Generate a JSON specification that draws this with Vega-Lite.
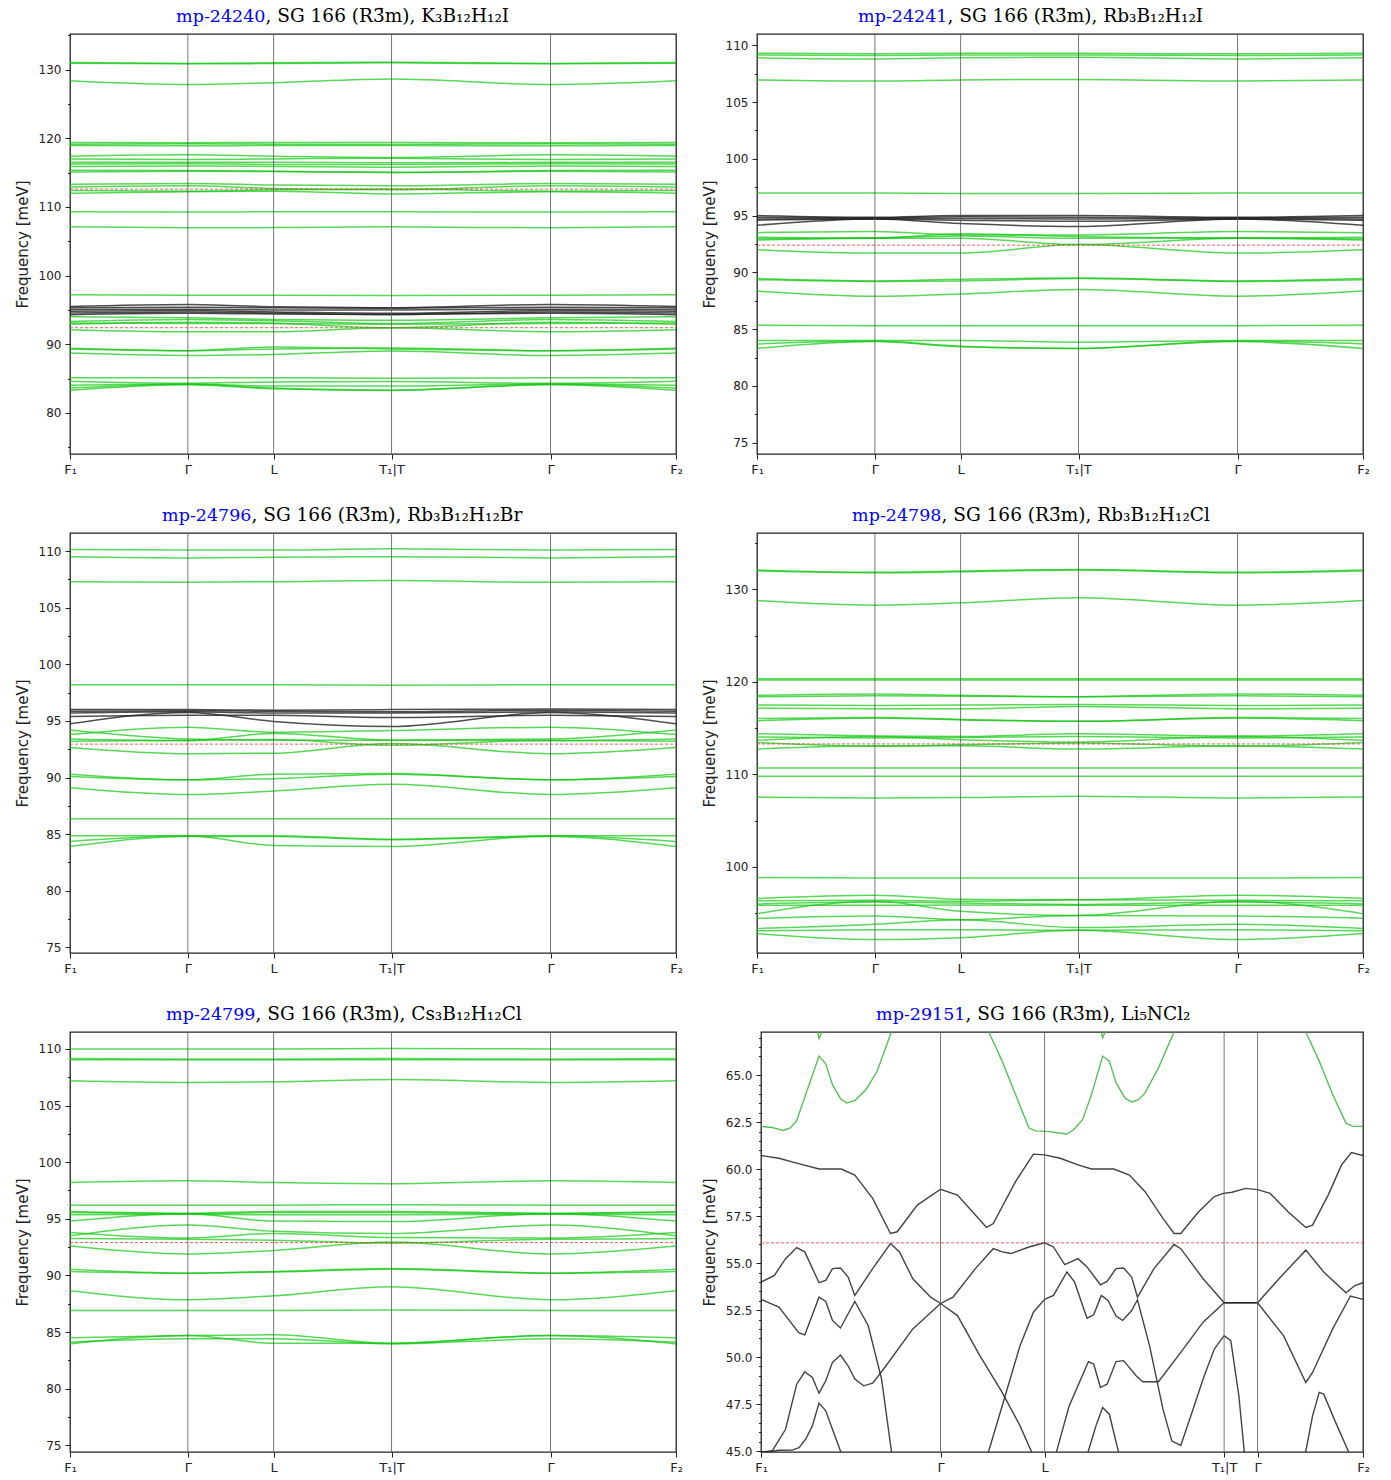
{
"$schema": "https://vega.github.io/schema/vega-lite/v6.json",
"background": "white",
"padding": {"left": 14, "right": 5, "top": 5, "bottom": 2},
"config": {
 "view": {"stroke": "#222222", "strokeWidth": 1.3},
 "axis": {"grid": false, "domain": false, "labelFont": "DejaVu Sans", "labelFontSize": 12, "labelColor": "#222222", "tickColor": "#222222", "titleFont": "DejaVu Sans", "titleFontSize": 15, "titleFontWeight": "normal", "titleColor": "#222222", "labelOverlap": false, "labelFlush": false}
},
"datasets": {
 "s1": [{"k":0.1945},{"k":0.336},{"k":0.5306},{"k":0.793}],
 "s6": [{"k":0.2982},{"k":0.4711},{"k":0.7693},{"k":0.8249}],
 "p1g": [
{"b":1,"k":0,"f":131.05},{"b":1,"k":0.1945,"f":130.9},{"b":1,"k":0.336,"f":131.0},{"b":1,"k":0.5306,"f":131.1},{"b":1,"k":0.793,"f":130.9},{"b":1,"k":1,"f":131.05},
{"b":2,"k":0,"f":130.95},{"b":2,"k":0.1945,"f":130.85},{"b":2,"k":0.336,"f":130.9},{"b":2,"k":0.5306,"f":131.0},{"b":2,"k":0.793,"f":130.85},{"b":2,"k":1,"f":130.95},
{"b":3,"k":0,"f":128.4},{"b":3,"k":0.1945,"f":127.85},{"b":3,"k":0.336,"f":128.1},{"b":3,"k":0.5306,"f":128.65},{"b":3,"k":0.793,"f":127.85},{"b":3,"k":1,"f":128.4},
{"b":4,"k":0,"f":119.4},{"b":4,"k":0.1945,"f":119.35},{"b":4,"k":0.336,"f":119.4},{"b":4,"k":0.5306,"f":119.4},{"b":4,"k":0.793,"f":119.35},{"b":4,"k":1,"f":119.4},
{"b":5,"k":0,"f":119.15},{"b":5,"k":0.1945,"f":119.2},{"b":5,"k":0.336,"f":119.15},{"b":5,"k":0.5306,"f":119.1},{"b":5,"k":0.793,"f":119.2},{"b":5,"k":1,"f":119.15},
{"b":6,"k":0,"f":118.95},{"b":6,"k":0.1945,"f":118.9},{"b":6,"k":0.336,"f":118.95},{"b":6,"k":0.5306,"f":118.95},{"b":6,"k":0.793,"f":118.9},{"b":6,"k":1,"f":118.95},
{"b":7,"k":0,"f":117.4},{"b":7,"k":0.1945,"f":117.6},{"b":7,"k":0.336,"f":117.4},{"b":7,"k":0.5306,"f":117.2},{"b":7,"k":0.793,"f":117.6},{"b":7,"k":1,"f":117.4},
{"b":8,"k":0,"f":117.0},{"b":8,"k":0.1945,"f":116.9},{"b":8,"k":0.336,"f":117.0},{"b":8,"k":0.5306,"f":117.1},{"b":8,"k":0.793,"f":116.9},{"b":8,"k":1,"f":117.0},
{"b":9,"k":0,"f":116.5},{"b":9,"k":0.1945,"f":116.5},{"b":9,"k":0.336,"f":116.5},{"b":9,"k":0.5306,"f":116.45},{"b":9,"k":0.793,"f":116.5},{"b":9,"k":1,"f":116.5},
{"b":10,"k":0,"f":116.25},{"b":10,"k":0.1945,"f":116.3},{"b":10,"k":0.336,"f":116.2},{"b":10,"k":0.5306,"f":116.2},{"b":10,"k":0.793,"f":116.3},{"b":10,"k":1,"f":116.25},
{"b":11,"k":0,"f":115.9},{"b":11,"k":0.1945,"f":115.95},{"b":11,"k":0.336,"f":115.9},{"b":11,"k":0.5306,"f":115.8},{"b":11,"k":0.793,"f":115.95},{"b":11,"k":1,"f":115.9},
{"b":12,"k":0,"f":115.35},{"b":12,"k":0.1945,"f":115.3},{"b":12,"k":0.336,"f":115.2},{"b":12,"k":0.5306,"f":115.05},{"b":12,"k":0.793,"f":115.3},{"b":12,"k":1,"f":115.35},
{"b":13,"k":0,"f":115.1},{"b":13,"k":0.1945,"f":115.2},{"b":13,"k":0.336,"f":115.15},{"b":13,"k":0.5306,"f":115.0},{"b":13,"k":0.793,"f":115.2},{"b":13,"k":1,"f":115.1},
{"b":14,"k":0,"f":113.3},{"b":14,"k":0.1945,"f":113.4},{"b":14,"k":0.336,"f":113.2},{"b":14,"k":0.5306,"f":113.1},{"b":14,"k":0.793,"f":113.4},{"b":14,"k":1,"f":113.3},
{"b":15,"k":0,"f":112.9},{"b":15,"k":0.1945,"f":113.1},{"b":15,"k":0.336,"f":112.7},{"b":15,"k":0.5306,"f":112.5},{"b":15,"k":0.793,"f":113.1},{"b":15,"k":1,"f":112.9},
{"b":16,"k":0,"f":112.4},{"b":16,"k":0.1945,"f":112.3},{"b":16,"k":0.336,"f":112.5},{"b":16,"k":0.5306,"f":112.6},{"b":16,"k":0.793,"f":112.3},{"b":16,"k":1,"f":112.4},
{"b":17,"k":0,"f":112.0},{"b":17,"k":0.1945,"f":112.2},{"b":17,"k":0.336,"f":112.3},{"b":17,"k":0.5306,"f":111.9},{"b":17,"k":0.793,"f":112.2},{"b":17,"k":1,"f":112.0},
{"b":18,"k":0,"f":109.3},{"b":18,"k":0.1945,"f":109.25},{"b":18,"k":0.336,"f":109.3},{"b":18,"k":0.5306,"f":109.3},{"b":18,"k":0.793,"f":109.25},{"b":18,"k":1,"f":109.3},
{"b":19,"k":0,"f":107.1},{"b":19,"k":0.1945,"f":106.95},{"b":19,"k":0.336,"f":107.0},{"b":19,"k":0.5306,"f":107.1},{"b":19,"k":0.793,"f":106.95},{"b":19,"k":1,"f":107.1},
{"b":20,"k":0,"f":97.2},{"b":20,"k":0.1945,"f":97.15},{"b":20,"k":0.336,"f":97.15},{"b":20,"k":0.5306,"f":97.1},{"b":20,"k":0.793,"f":97.15},{"b":20,"k":1,"f":97.2},
{"b":21,"k":0,"f":94.0},{"b":21,"k":0.1945,"f":93.85},{"b":21,"k":0.336,"f":93.6},{"b":21,"k":0.5306,"f":93.5},{"b":21,"k":0.793,"f":93.85},{"b":21,"k":1,"f":94.0},
{"b":22,"k":0,"f":93.3},{"b":22,"k":0.1945,"f":93.6},{"b":22,"k":0.336,"f":93.4},{"b":22,"k":0.5306,"f":93.0},{"b":22,"k":0.793,"f":93.6},{"b":22,"k":1,"f":93.3},
{"b":23,"k":0,"f":93.1},{"b":23,"k":0.1945,"f":93.0},{"b":23,"k":0.336,"f":93.0},{"b":23,"k":0.5306,"f":92.9},{"b":23,"k":0.793,"f":93.0},{"b":23,"k":1,"f":93.1},
{"b":24,"k":0,"f":92.9},{"b":24,"k":0.1945,"f":93.2},{"b":24,"k":0.336,"f":93.05},{"b":24,"k":0.5306,"f":92.4},{"b":24,"k":0.793,"f":93.2},{"b":24,"k":1,"f":92.9},
{"b":25,"k":0,"f":92.1},{"b":25,"k":0.1945,"f":91.8},{"b":25,"k":0.336,"f":91.8},{"b":25,"k":0.5306,"f":92.4},{"b":25,"k":0.793,"f":91.8},{"b":25,"k":1,"f":92.1},
{"b":26,"k":0,"f":89.4},{"b":26,"k":0.1945,"f":89.05},{"b":26,"k":0.336,"f":89.6},{"b":26,"k":0.5306,"f":89.3},{"b":26,"k":0.793,"f":89.05},{"b":26,"k":1,"f":89.4},
{"b":27,"k":0,"f":89.3},{"b":27,"k":0.1945,"f":89.05},{"b":27,"k":0.336,"f":89.3},{"b":27,"k":0.5306,"f":89.45},{"b":27,"k":0.793,"f":89.05},{"b":27,"k":1,"f":89.3},
{"b":28,"k":0,"f":88.7},{"b":28,"k":0.1945,"f":88.35},{"b":28,"k":0.336,"f":88.5},{"b":28,"k":0.5306,"f":89.0},{"b":28,"k":0.793,"f":88.35},{"b":28,"k":1,"f":88.7},
{"b":29,"k":0,"f":85.1},{"b":29,"k":0.1945,"f":85.1},{"b":29,"k":0.336,"f":85.1},{"b":29,"k":0.5306,"f":85.05},{"b":29,"k":0.793,"f":85.1},{"b":29,"k":1,"f":85.1},
{"b":30,"k":0,"f":84.6},{"b":30,"k":0.1945,"f":84.3},{"b":30,"k":0.336,"f":84.5},{"b":30,"k":0.5306,"f":84.55},{"b":30,"k":0.793,"f":84.3},{"b":30,"k":1,"f":84.6},
{"b":31,"k":0,"f":84.0},{"b":31,"k":0.1945,"f":84.2},{"b":31,"k":0.336,"f":83.9},{"b":31,"k":0.5306,"f":83.9},{"b":31,"k":0.793,"f":84.2},{"b":31,"k":1,"f":84.0},
{"b":32,"k":0,"f":83.6},{"b":32,"k":0.1945,"f":84.15},{"b":32,"k":0.336,"f":83.6},{"b":32,"k":0.5306,"f":83.3},{"b":32,"k":0.793,"f":84.15},{"b":32,"k":1,"f":83.6},
{"b":33,"k":0,"f":83.3},{"b":33,"k":0.1945,"f":84.1},{"b":33,"k":0.336,"f":83.5},{"b":33,"k":0.5306,"f":83.25},{"b":33,"k":0.793,"f":84.1},{"b":33,"k":1,"f":83.3}
 ],
 "p1k": [
{"b":1,"k":0,"f":95.5},{"b":1,"k":0.1945,"f":95.8},{"b":1,"k":0.336,"f":95.45},{"b":1,"k":0.5306,"f":95.3},{"b":1,"k":0.793,"f":95.8},{"b":1,"k":1,"f":95.5},
{"b":2,"k":0,"f":95.3},{"b":2,"k":0.1945,"f":95.4},{"b":2,"k":0.336,"f":95.3},{"b":2,"k":0.5306,"f":95.25},{"b":2,"k":0.793,"f":95.4},{"b":2,"k":1,"f":95.3},
{"b":3,"k":0,"f":95.05},{"b":3,"k":0.1945,"f":95.1},{"b":3,"k":0.336,"f":95.0},{"b":3,"k":0.5306,"f":95.0},{"b":3,"k":0.793,"f":95.1},{"b":3,"k":1,"f":95.05},
{"b":4,"k":0,"f":94.8},{"b":4,"k":0.1945,"f":94.9},{"b":4,"k":0.336,"f":94.7},{"b":4,"k":0.5306,"f":94.5},{"b":4,"k":0.793,"f":94.9},{"b":4,"k":1,"f":94.8},
{"b":5,"k":0,"f":94.55},{"b":5,"k":0.1945,"f":94.7},{"b":5,"k":0.336,"f":94.55},{"b":5,"k":0.5306,"f":94.3},{"b":5,"k":0.793,"f":94.7},{"b":5,"k":1,"f":94.55},
{"b":6,"k":0,"f":94.3},{"b":6,"k":0.1945,"f":94.5},{"b":6,"k":0.336,"f":94.4},{"b":6,"k":0.5306,"f":94.35},{"b":6,"k":0.793,"f":94.5},{"b":6,"k":1,"f":94.3}
 ],
 "p2g": [
{"b":1,"k":0,"f":109.3},{"b":1,"k":0.1945,"f":109.25},{"b":1,"k":0.336,"f":109.3},{"b":1,"k":0.5306,"f":109.3},{"b":1,"k":0.793,"f":109.25},{"b":1,"k":1,"f":109.3},
{"b":2,"k":0,"f":109.15},{"b":2,"k":0.1945,"f":109.1},{"b":2,"k":0.336,"f":109.15},{"b":2,"k":0.5306,"f":109.15},{"b":2,"k":0.793,"f":109.1},{"b":2,"k":1,"f":109.15},
{"b":3,"k":0,"f":108.9},{"b":3,"k":0.1945,"f":108.8},{"b":3,"k":0.336,"f":108.9},{"b":3,"k":0.5306,"f":108.95},{"b":3,"k":0.793,"f":108.8},{"b":3,"k":1,"f":108.9},
{"b":4,"k":0,"f":106.95},{"b":4,"k":0.1945,"f":106.85},{"b":4,"k":0.336,"f":106.95},{"b":4,"k":0.5306,"f":107.0},{"b":4,"k":0.793,"f":106.85},{"b":4,"k":1,"f":106.95},
{"b":5,"k":0,"f":97.0},{"b":5,"k":0.1945,"f":97.0},{"b":5,"k":0.336,"f":96.95},{"b":5,"k":0.5306,"f":96.95},{"b":5,"k":0.793,"f":97.0},{"b":5,"k":1,"f":97.0},
{"b":6,"k":0,"f":93.5},{"b":6,"k":0.1945,"f":93.6},{"b":6,"k":0.336,"f":93.3},{"b":6,"k":0.5306,"f":93.3},{"b":6,"k":0.793,"f":93.6},{"b":6,"k":1,"f":93.5},
{"b":7,"k":0,"f":93.1},{"b":7,"k":0.1945,"f":93.0},{"b":7,"k":0.336,"f":93.4},{"b":7,"k":0.5306,"f":93.15},{"b":7,"k":0.793,"f":93.0},{"b":7,"k":1,"f":93.1},
{"b":8,"k":0,"f":92.95},{"b":8,"k":0.1945,"f":93.05},{"b":8,"k":0.336,"f":93.2},{"b":8,"k":0.5306,"f":93.0},{"b":8,"k":0.793,"f":93.05},{"b":8,"k":1,"f":92.95},
{"b":9,"k":0,"f":92.85},{"b":9,"k":0.1945,"f":93.0},{"b":9,"k":0.336,"f":93.0},{"b":9,"k":0.5306,"f":92.45},{"b":9,"k":0.793,"f":93.0},{"b":9,"k":1,"f":92.85},
{"b":10,"k":0,"f":92.0},{"b":10,"k":0.1945,"f":91.7},{"b":10,"k":0.336,"f":91.7},{"b":10,"k":0.5306,"f":92.45},{"b":10,"k":0.793,"f":91.7},{"b":10,"k":1,"f":92.0},
{"b":11,"k":0,"f":89.45},{"b":11,"k":0.1945,"f":89.25},{"b":11,"k":0.336,"f":89.4},{"b":11,"k":0.5306,"f":89.5},{"b":11,"k":0.793,"f":89.25},{"b":11,"k":1,"f":89.45},
{"b":12,"k":0,"f":89.35},{"b":12,"k":0.1945,"f":89.2},{"b":12,"k":0.336,"f":89.25},{"b":12,"k":0.5306,"f":89.45},{"b":12,"k":0.793,"f":89.2},{"b":12,"k":1,"f":89.35},
{"b":13,"k":0,"f":88.35},{"b":13,"k":0.1945,"f":87.9},{"b":13,"k":0.336,"f":88.1},{"b":13,"k":0.5306,"f":88.5},{"b":13,"k":0.793,"f":87.9},{"b":13,"k":1,"f":88.35},
{"b":14,"k":0,"f":85.35},{"b":14,"k":0.1945,"f":85.3},{"b":14,"k":0.336,"f":85.3},{"b":14,"k":0.5306,"f":85.3},{"b":14,"k":0.793,"f":85.3},{"b":14,"k":1,"f":85.35},
{"b":15,"k":0,"f":84.0},{"b":15,"k":0.1945,"f":84.0},{"b":15,"k":0.336,"f":84.0},{"b":15,"k":0.5306,"f":83.85},{"b":15,"k":0.793,"f":84.0},{"b":15,"k":1,"f":84.0},
{"b":16,"k":0,"f":83.7},{"b":16,"k":0.1945,"f":83.95},{"b":16,"k":0.336,"f":83.5},{"b":16,"k":0.5306,"f":83.3},{"b":16,"k":0.793,"f":83.95},{"b":16,"k":1,"f":83.7},
{"b":17,"k":0,"f":83.3},{"b":17,"k":0.1945,"f":83.9},{"b":17,"k":0.336,"f":83.45},{"b":17,"k":0.5306,"f":83.3},{"b":17,"k":0.793,"f":83.9},{"b":17,"k":1,"f":83.3}
 ],
 "p2k": [
{"b":1,"k":0,"f":95.0},{"b":1,"k":0.1945,"f":94.85},{"b":1,"k":0.336,"f":95.0},{"b":1,"k":0.5306,"f":95.0},{"b":1,"k":0.793,"f":94.85},{"b":1,"k":1,"f":95.0},
{"b":2,"k":0,"f":94.85},{"b":2,"k":0.1945,"f":94.8},{"b":2,"k":0.336,"f":94.9},{"b":2,"k":0.5306,"f":94.85},{"b":2,"k":0.793,"f":94.8},{"b":2,"k":1,"f":94.85},
{"b":3,"k":0,"f":94.7},{"b":3,"k":0.1945,"f":94.75},{"b":3,"k":0.336,"f":94.75},{"b":3,"k":0.5306,"f":94.7},{"b":3,"k":0.793,"f":94.75},{"b":3,"k":1,"f":94.7},
{"b":4,"k":0,"f":94.6},{"b":4,"k":0.1945,"f":94.7},{"b":4,"k":0.336,"f":94.6},{"b":4,"k":0.5306,"f":94.5},{"b":4,"k":0.793,"f":94.7},{"b":4,"k":1,"f":94.6},
{"b":5,"k":0,"f":94.15},{"b":5,"k":0.1945,"f":94.7},{"b":5,"k":0.336,"f":94.3},{"b":5,"k":0.5306,"f":94.05},{"b":5,"k":0.793,"f":94.7},{"b":5,"k":1,"f":94.15}
 ],
 "p3g": [
{"b":1,"k":0,"f":110.15},{"b":1,"k":0.1945,"f":110.1},{"b":1,"k":0.336,"f":110.1},{"b":1,"k":0.5306,"f":110.2},{"b":1,"k":0.793,"f":110.1},{"b":1,"k":1,"f":110.15},
{"b":2,"k":0,"f":109.5},{"b":2,"k":0.1945,"f":109.4},{"b":2,"k":0.336,"f":109.45},{"b":2,"k":0.5306,"f":109.5},{"b":2,"k":0.793,"f":109.4},{"b":2,"k":1,"f":109.5},
{"b":3,"k":0,"f":107.3},{"b":3,"k":0.1945,"f":107.25},{"b":3,"k":0.336,"f":107.3},{"b":3,"k":0.5306,"f":107.4},{"b":3,"k":0.793,"f":107.25},{"b":3,"k":1,"f":107.3},
{"b":4,"k":0,"f":98.2},{"b":4,"k":0.1945,"f":98.2},{"b":4,"k":0.336,"f":98.2},{"b":4,"k":0.5306,"f":98.15},{"b":4,"k":0.793,"f":98.2},{"b":4,"k":1,"f":98.2},
{"b":5,"k":0,"f":94.2},{"b":5,"k":0.1945,"f":93.4},{"b":5,"k":0.336,"f":93.3},{"b":5,"k":0.5306,"f":93.3},{"b":5,"k":0.793,"f":93.4},{"b":5,"k":1,"f":94.2},
{"b":6,"k":0,"f":93.8},{"b":6,"k":0.1945,"f":94.45},{"b":6,"k":0.336,"f":94.0},{"b":6,"k":0.5306,"f":94.15},{"b":6,"k":0.793,"f":94.45},{"b":6,"k":1,"f":93.8},
{"b":7,"k":0,"f":93.4},{"b":7,"k":0.1945,"f":93.25},{"b":7,"k":0.336,"f":93.9},{"b":7,"k":0.5306,"f":93.3},{"b":7,"k":0.793,"f":93.25},{"b":7,"k":1,"f":93.4},
{"b":8,"k":0,"f":93.2},{"b":8,"k":0.1945,"f":93.3},{"b":8,"k":0.336,"f":93.35},{"b":8,"k":0.5306,"f":92.85},{"b":8,"k":0.793,"f":93.3},{"b":8,"k":1,"f":93.2},
{"b":9,"k":0,"f":92.65},{"b":9,"k":0.1945,"f":92.1},{"b":9,"k":0.336,"f":92.15},{"b":9,"k":0.5306,"f":93.0},{"b":9,"k":0.793,"f":92.1},{"b":9,"k":1,"f":92.65},
{"b":10,"k":0,"f":90.3},{"b":10,"k":0.1945,"f":89.8},{"b":10,"k":0.336,"f":90.3},{"b":10,"k":0.5306,"f":90.35},{"b":10,"k":0.793,"f":89.8},{"b":10,"k":1,"f":90.3},
{"b":11,"k":0,"f":90.1},{"b":11,"k":0.1945,"f":89.8},{"b":11,"k":0.336,"f":89.9},{"b":11,"k":0.5306,"f":90.3},{"b":11,"k":0.793,"f":89.8},{"b":11,"k":1,"f":90.1},
{"b":12,"k":0,"f":89.1},{"b":12,"k":0.1945,"f":88.5},{"b":12,"k":0.336,"f":88.8},{"b":12,"k":0.5306,"f":89.4},{"b":12,"k":0.793,"f":88.5},{"b":12,"k":1,"f":89.1},
{"b":13,"k":0,"f":86.35},{"b":13,"k":0.1945,"f":86.35},{"b":13,"k":0.336,"f":86.35},{"b":13,"k":0.5306,"f":86.35},{"b":13,"k":0.793,"f":86.35},{"b":13,"k":1,"f":86.35},
{"b":14,"k":0,"f":84.85},{"b":14,"k":0.1945,"f":84.85},{"b":14,"k":0.336,"f":84.85},{"b":14,"k":0.5306,"f":84.55},{"b":14,"k":0.793,"f":84.85},{"b":14,"k":1,"f":84.85},
{"b":15,"k":0,"f":84.35},{"b":15,"k":0.1945,"f":84.85},{"b":15,"k":0.336,"f":84.0},{"b":15,"k":0.5306,"f":83.9},{"b":15,"k":0.793,"f":84.85},{"b":15,"k":1,"f":84.35},
{"b":16,"k":0,"f":83.9},{"b":16,"k":0.1945,"f":84.8},{"b":16,"k":0.336,"f":84.8},{"b":16,"k":0.5306,"f":84.5},{"b":16,"k":0.793,"f":84.8},{"b":16,"k":1,"f":83.9}
 ],
 "p3k": [
{"b":1,"k":0,"f":96.0},{"b":1,"k":0.1945,"f":96.0},{"b":1,"k":0.336,"f":95.95},{"b":1,"k":0.5306,"f":96.0},{"b":1,"k":0.793,"f":96.05},{"b":1,"k":1,"f":96.0},
{"b":2,"k":0,"f":95.85},{"b":2,"k":0.1945,"f":95.9},{"b":2,"k":0.336,"f":95.85},{"b":2,"k":0.5306,"f":95.8},{"b":2,"k":0.793,"f":95.95},{"b":2,"k":1,"f":95.85},
{"b":3,"k":0,"f":95.7},{"b":3,"k":0.1945,"f":95.8},{"b":3,"k":0.336,"f":95.7},{"b":3,"k":0.5306,"f":95.7},{"b":3,"k":0.793,"f":95.8},{"b":3,"k":1,"f":95.7},
{"b":4,"k":0,"f":95.4},{"b":4,"k":0.1945,"f":95.5},{"b":4,"k":0.336,"f":95.5},{"b":4,"k":0.5306,"f":95.3},{"b":4,"k":0.793,"f":95.5},{"b":4,"k":1,"f":95.4},
{"b":5,"k":0,"f":94.75},{"b":5,"k":0.1945,"f":95.75},{"b":5,"k":0.336,"f":94.95},{"b":5,"k":0.5306,"f":94.5},{"b":5,"k":0.793,"f":95.75},{"b":5,"k":1,"f":94.75}
 ],
 "p4g": [
{"b":1,"k":0,"f":132.1},{"b":1,"k":0.1945,"f":131.85},{"b":1,"k":0.336,"f":132.0},{"b":1,"k":0.5306,"f":132.15},{"b":1,"k":0.793,"f":131.85},{"b":1,"k":1,"f":132.1},
{"b":2,"k":0,"f":132.0},{"b":2,"k":0.1945,"f":131.8},{"b":2,"k":0.336,"f":131.9},{"b":2,"k":0.5306,"f":132.1},{"b":2,"k":0.793,"f":131.8},{"b":2,"k":1,"f":132.0},
{"b":3,"k":0,"f":128.8},{"b":3,"k":0.1945,"f":128.3},{"b":3,"k":0.336,"f":128.55},{"b":3,"k":0.5306,"f":129.1},{"b":3,"k":0.793,"f":128.3},{"b":3,"k":1,"f":128.8},
{"b":4,"k":0,"f":120.35},{"b":4,"k":0.1945,"f":120.35},{"b":4,"k":0.336,"f":120.35},{"b":4,"k":0.5306,"f":120.35},{"b":4,"k":0.793,"f":120.35},{"b":4,"k":1,"f":120.35},
{"b":5,"k":0,"f":120.2},{"b":5,"k":0.1945,"f":120.2},{"b":5,"k":0.336,"f":120.2},{"b":5,"k":0.5306,"f":120.2},{"b":5,"k":0.793,"f":120.2},{"b":5,"k":1,"f":120.2},
{"b":6,"k":0,"f":118.55},{"b":6,"k":0.1945,"f":118.7},{"b":6,"k":0.336,"f":118.55},{"b":6,"k":0.5306,"f":118.4},{"b":6,"k":0.793,"f":118.7},{"b":6,"k":1,"f":118.55},
{"b":7,"k":0,"f":118.4},{"b":7,"k":0.1945,"f":118.5},{"b":7,"k":0.336,"f":118.45},{"b":7,"k":0.5306,"f":118.4},{"b":7,"k":0.793,"f":118.5},{"b":7,"k":1,"f":118.4},
{"b":8,"k":0,"f":117.5},{"b":8,"k":0.1945,"f":117.45},{"b":8,"k":0.336,"f":117.5},{"b":8,"k":0.5306,"f":117.55},{"b":8,"k":0.793,"f":117.45},{"b":8,"k":1,"f":117.5},
{"b":9,"k":0,"f":117.15},{"b":9,"k":0.1945,"f":117.1},{"b":9,"k":0.336,"f":117.1},{"b":9,"k":0.5306,"f":117.35},{"b":9,"k":0.793,"f":117.1},{"b":9,"k":1,"f":117.15},
{"b":10,"k":0,"f":116.05},{"b":10,"k":0.1945,"f":116.15},{"b":10,"k":0.336,"f":115.95},{"b":10,"k":0.5306,"f":115.75},{"b":10,"k":0.793,"f":116.15},{"b":10,"k":1,"f":116.05},
{"b":11,"k":0,"f":115.8},{"b":11,"k":0.1945,"f":116.1},{"b":11,"k":0.336,"f":115.9},{"b":11,"k":0.5306,"f":115.75},{"b":11,"k":0.793,"f":116.1},{"b":11,"k":1,"f":115.8},
{"b":12,"k":0,"f":114.4},{"b":12,"k":0.1945,"f":114.15},{"b":12,"k":0.336,"f":114.1},{"b":12,"k":0.5306,"f":114.4},{"b":12,"k":0.793,"f":114.15},{"b":12,"k":1,"f":114.4},
{"b":13,"k":0,"f":114.05},{"b":13,"k":0.1945,"f":113.95},{"b":13,"k":0.336,"f":114.0},{"b":13,"k":0.5306,"f":114.1},{"b":13,"k":0.793,"f":113.95},{"b":13,"k":1,"f":114.05},
{"b":14,"k":0,"f":113.7},{"b":14,"k":0.1945,"f":114.1},{"b":14,"k":0.336,"f":113.75},{"b":14,"k":0.5306,"f":113.5},{"b":14,"k":0.793,"f":114.1},{"b":14,"k":1,"f":113.7},
{"b":15,"k":0,"f":113.45},{"b":15,"k":0.1945,"f":113.05},{"b":15,"k":0.336,"f":113.2},{"b":15,"k":0.5306,"f":113.4},{"b":15,"k":0.793,"f":113.05},{"b":15,"k":1,"f":113.45},
{"b":16,"k":0,"f":112.75},{"b":16,"k":0.1945,"f":113.1},{"b":16,"k":0.336,"f":113.1},{"b":16,"k":0.5306,"f":112.75},{"b":16,"k":0.793,"f":113.1},{"b":16,"k":1,"f":112.75},
{"b":17,"k":0,"f":110.7},{"b":17,"k":0.1945,"f":110.7},{"b":17,"k":0.336,"f":110.7},{"b":17,"k":0.5306,"f":110.7},{"b":17,"k":0.793,"f":110.7},{"b":17,"k":1,"f":110.7},
{"b":18,"k":0,"f":109.8},{"b":18,"k":0.1945,"f":109.8},{"b":18,"k":0.336,"f":109.8},{"b":18,"k":0.5306,"f":109.8},{"b":18,"k":0.793,"f":109.8},{"b":18,"k":1,"f":109.8},
{"b":19,"k":0,"f":107.55},{"b":19,"k":0.1945,"f":107.45},{"b":19,"k":0.336,"f":107.5},{"b":19,"k":0.5306,"f":107.65},{"b":19,"k":0.793,"f":107.45},{"b":19,"k":1,"f":107.55},
{"b":20,"k":0,"f":98.85},{"b":20,"k":0.1945,"f":98.8},{"b":20,"k":0.336,"f":98.8},{"b":20,"k":0.5306,"f":98.8},{"b":20,"k":0.793,"f":98.8},{"b":20,"k":1,"f":98.85},
{"b":21,"k":0,"f":96.6},{"b":21,"k":0.1945,"f":96.95},{"b":21,"k":0.336,"f":96.5},{"b":21,"k":0.5306,"f":96.45},{"b":21,"k":0.793,"f":96.95},{"b":21,"k":1,"f":96.6},
{"b":22,"k":0,"f":96.35},{"b":22,"k":0.1945,"f":96.4},{"b":22,"k":0.336,"f":96.3},{"b":22,"k":0.5306,"f":96.45},{"b":22,"k":0.793,"f":96.4},{"b":22,"k":1,"f":96.35},
{"b":23,"k":0,"f":96.0},{"b":23,"k":0.1945,"f":96.2},{"b":23,"k":0.336,"f":96.1},{"b":23,"k":0.5306,"f":95.95},{"b":23,"k":0.793,"f":96.2},{"b":23,"k":1,"f":96.0},
{"b":24,"k":0,"f":95.85},{"b":24,"k":0.1945,"f":95.85},{"b":24,"k":0.336,"f":95.9},{"b":24,"k":0.5306,"f":95.85},{"b":24,"k":0.793,"f":95.85},{"b":24,"k":1,"f":95.85},
{"b":25,"k":0,"f":94.95},{"b":25,"k":0.1945,"f":96.3},{"b":25,"k":0.336,"f":95.2},{"b":25,"k":0.5306,"f":94.75},{"b":25,"k":0.793,"f":96.3},{"b":25,"k":1,"f":94.95},
{"b":26,"k":0,"f":94.45},{"b":26,"k":0.1945,"f":94.7},{"b":26,"k":0.336,"f":94.3},{"b":26,"k":0.5306,"f":94.75},{"b":26,"k":0.793,"f":94.7},{"b":26,"k":1,"f":94.45},
{"b":27,"k":0,"f":93.35},{"b":27,"k":0.1945,"f":93.8},{"b":27,"k":0.336,"f":94.3},{"b":27,"k":0.5306,"f":93.45},{"b":27,"k":0.793,"f":93.8},{"b":27,"k":1,"f":93.35},
{"b":28,"k":0,"f":93.1},{"b":28,"k":0.1945,"f":93.2},{"b":28,"k":0.336,"f":93.2},{"b":28,"k":0.5306,"f":93.15},{"b":28,"k":0.793,"f":93.2},{"b":28,"k":1,"f":93.1},
{"b":29,"k":0,"f":92.8},{"b":29,"k":0.1945,"f":92.15},{"b":29,"k":0.336,"f":92.35},{"b":29,"k":0.5306,"f":93.15},{"b":29,"k":0.793,"f":92.15},{"b":29,"k":1,"f":92.8}
 ],
 "p5g": [
{"b":1,"k":0,"f":110.0},{"b":1,"k":0.1945,"f":110.0},{"b":1,"k":0.336,"f":110.0},{"b":1,"k":0.5306,"f":110.05},{"b":1,"k":0.793,"f":110.0},{"b":1,"k":1,"f":110.0},
{"b":2,"k":0,"f":109.15},{"b":2,"k":0.1945,"f":109.1},{"b":2,"k":0.336,"f":109.1},{"b":2,"k":0.5306,"f":109.15},{"b":2,"k":0.793,"f":109.1},{"b":2,"k":1,"f":109.15},
{"b":3,"k":0,"f":109.05},{"b":3,"k":0.1945,"f":109.05},{"b":3,"k":0.336,"f":109.05},{"b":3,"k":0.5306,"f":109.05},{"b":3,"k":0.793,"f":109.05},{"b":3,"k":1,"f":109.05},
{"b":4,"k":0,"f":107.2},{"b":4,"k":0.1945,"f":107.05},{"b":4,"k":0.336,"f":107.1},{"b":4,"k":0.5306,"f":107.3},{"b":4,"k":0.793,"f":107.05},{"b":4,"k":1,"f":107.2},
{"b":5,"k":0,"f":98.2},{"b":5,"k":0.1945,"f":98.35},{"b":5,"k":0.336,"f":98.2},{"b":5,"k":0.5306,"f":98.1},{"b":5,"k":0.793,"f":98.35},{"b":5,"k":1,"f":98.2},
{"b":6,"k":0,"f":96.2},{"b":6,"k":0.1945,"f":96.2},{"b":6,"k":0.336,"f":96.2},{"b":6,"k":0.5306,"f":96.25},{"b":6,"k":0.793,"f":96.2},{"b":6,"k":1,"f":96.2},
{"b":7,"k":0,"f":95.65},{"b":7,"k":0.1945,"f":95.5},{"b":7,"k":0.336,"f":95.65},{"b":7,"k":0.5306,"f":95.65},{"b":7,"k":0.793,"f":95.5},{"b":7,"k":1,"f":95.65},
{"b":8,"k":0,"f":95.55},{"b":8,"k":0.1945,"f":95.45},{"b":8,"k":0.336,"f":95.55},{"b":8,"k":0.5306,"f":95.55},{"b":8,"k":0.793,"f":95.45},{"b":8,"k":1,"f":95.55},
{"b":9,"k":0,"f":95.35},{"b":9,"k":0.1945,"f":95.4},{"b":9,"k":0.336,"f":95.35},{"b":9,"k":0.5306,"f":95.35},{"b":9,"k":0.793,"f":95.4},{"b":9,"k":1,"f":95.35},
{"b":10,"k":0,"f":94.8},{"b":10,"k":0.1945,"f":95.45},{"b":10,"k":0.336,"f":94.8},{"b":10,"k":0.5306,"f":94.75},{"b":10,"k":0.793,"f":95.45},{"b":10,"k":1,"f":94.8},
{"b":11,"k":0,"f":93.5},{"b":11,"k":0.1945,"f":94.45},{"b":11,"k":0.336,"f":93.9},{"b":11,"k":0.5306,"f":93.7},{"b":11,"k":0.793,"f":94.45},{"b":11,"k":1,"f":93.5},
{"b":12,"k":0,"f":93.8},{"b":12,"k":0.1945,"f":93.3},{"b":12,"k":0.336,"f":93.7},{"b":12,"k":0.5306,"f":93.35},{"b":12,"k":0.793,"f":93.3},{"b":12,"k":1,"f":93.8},
{"b":13,"k":0,"f":93.25},{"b":13,"k":0.1945,"f":93.2},{"b":13,"k":0.336,"f":93.1},{"b":13,"k":0.5306,"f":92.85},{"b":13,"k":0.793,"f":93.2},{"b":13,"k":1,"f":93.25},
{"b":14,"k":0,"f":92.6},{"b":14,"k":0.1945,"f":91.9},{"b":14,"k":0.336,"f":92.2},{"b":14,"k":0.5306,"f":92.95},{"b":14,"k":0.793,"f":91.9},{"b":14,"k":1,"f":92.6},
{"b":15,"k":0,"f":90.55},{"b":15,"k":0.1945,"f":90.2},{"b":15,"k":0.336,"f":90.35},{"b":15,"k":0.5306,"f":90.6},{"b":15,"k":0.793,"f":90.2},{"b":15,"k":1,"f":90.55},
{"b":16,"k":0,"f":90.35},{"b":16,"k":0.1945,"f":90.2},{"b":16,"k":0.336,"f":90.3},{"b":16,"k":0.5306,"f":90.55},{"b":16,"k":0.793,"f":90.2},{"b":16,"k":1,"f":90.35},
{"b":17,"k":0,"f":88.65},{"b":17,"k":0.1945,"f":87.85},{"b":17,"k":0.336,"f":88.2},{"b":17,"k":0.5306,"f":89.0},{"b":17,"k":0.793,"f":87.85},{"b":17,"k":1,"f":88.65},
{"b":18,"k":0,"f":86.9},{"b":18,"k":0.1945,"f":86.9},{"b":18,"k":0.336,"f":86.9},{"b":18,"k":0.5306,"f":86.95},{"b":18,"k":0.793,"f":86.9},{"b":18,"k":1,"f":86.9},
{"b":19,"k":0,"f":84.5},{"b":19,"k":0.1945,"f":84.7},{"b":19,"k":0.336,"f":84.75},{"b":19,"k":0.5306,"f":84.0},{"b":19,"k":0.793,"f":84.7},{"b":19,"k":1,"f":84.5},
{"b":20,"k":0,"f":84.1},{"b":20,"k":0.1945,"f":84.4},{"b":20,"k":0.336,"f":84.4},{"b":20,"k":0.5306,"f":83.95},{"b":20,"k":0.793,"f":84.4},{"b":20,"k":1,"f":84.1},
{"b":21,"k":0,"f":83.95},{"b":21,"k":0.1945,"f":84.7},{"b":21,"k":0.336,"f":84.0},{"b":21,"k":0.5306,"f":84.0},{"b":21,"k":0.793,"f":84.7},{"b":21,"k":1,"f":83.95}
 ],
 "p6g": [
{"b":1,"k":0,"f":62.28},{"b":1,"k":0.0185,"f":62.22},{"b":1,"k":0.0371,"f":62.06},{"b":1,"k":0.0482,"f":62.19},{"b":1,"k":0.0593,"f":62.58},{"b":1,"k":0.0742,"f":63.97},{"b":1,"k":0.0964,"f":66.02},{"b":1,"k":0.1076,"f":65.61},{"b":1,"k":0.1187,"f":64.5},{"b":1,"k":0.132,"f":63.75},{"b":1,"k":0.1424,"f":63.52},{"b":1,"k":0.1558,"f":63.65},{"b":1,"k":0.1743,"f":64.23},{"b":1,"k":0.1929,"f":65.21},{"b":1,"k":0.2166,"f":67.3},{"b":1,"k":0.2226,"f":67.8},
{"b":2,"k":0.0927,"f":67.53},{"b":2,"k":0.0964,"f":66.94},{"b":2,"k":0.1039,"f":67.53},
{"b":3,"k":0.3709,"f":67.8},{"b":3,"k":0.3783,"f":67.3},{"b":3,"k":0.4006,"f":65.75},{"b":3,"k":0.4228,"f":63.97},{"b":3,"k":0.4451,"f":62.19},{"b":3,"k":0.4562,"f":62.04},{"b":3,"k":0.4748,"f":62.01},{"b":3,"k":0.4896,"f":61.95},{"b":3,"k":0.5082,"f":61.87},{"b":3,"k":0.5193,"f":62.1},{"b":3,"k":0.5341,"f":62.63},{"b":3,"k":0.549,"f":63.97},{"b":3,"k":0.5675,"f":66.02},{"b":3,"k":0.5786,"f":65.75},{"b":3,"k":0.5898,"f":64.59},{"b":3,"k":0.6046,"f":63.79},{"b":3,"k":0.6157,"f":63.58},{"b":3,"k":0.6269,"f":63.7},{"b":3,"k":0.638,"f":64.06},{"b":3,"k":0.6602,"f":65.39},{"b":3,"k":0.6862,"f":67.3},{"b":3,"k":0.6936,"f":67.8},
{"b":4,"k":0.5638,"f":67.53},{"b":4,"k":0.5675,"f":66.99},{"b":4,"k":0.5749,"f":67.53},
{"b":5,"k":0.8976,"f":67.8},{"b":5,"k":0.905,"f":67.3},{"b":5,"k":0.9273,"f":65.75},{"b":5,"k":0.9496,"f":63.97},{"b":5,"k":0.9718,"f":62.45},{"b":5,"k":0.9829,"f":62.28},{"b":5,"k":1,"f":62.28}
 ],
 "p6k": [
{"b":1,"k":0,"f":60.73},{"b":1,"k":0.0297,"f":60.58},{"b":1,"k":0.0593,"f":60.32},{"b":1,"k":0.0964,"f":60.01},{"b":1,"k":0.1335,"f":60.01},{"b":1,"k":0.1558,"f":59.69},{"b":1,"k":0.1855,"f":58.45},{"b":1,"k":0.2151,"f":56.58},{"b":1,"k":0.2263,"f":56.67},{"b":1,"k":0.2596,"f":58.09},{"b":1,"k":0.2982,"f":58.93},{"b":1,"k":0.3264,"f":58.62},{"b":1,"k":0.3561,"f":57.56},{"b":1,"k":0.3746,"f":56.9},{"b":1,"k":0.3858,"f":57.11},{"b":1,"k":0.4228,"f":59.34},{"b":1,"k":0.4525,"f":60.8},{"b":1,"k":0.4711,"f":60.76},{"b":1,"k":0.497,"f":60.58},{"b":1,"k":0.5267,"f":60.23},{"b":1,"k":0.549,"f":60.01},{"b":1,"k":0.5861,"f":60.01},{"b":1,"k":0.612,"f":59.69},{"b":1,"k":0.638,"f":58.8},{"b":1,"k":0.6677,"f":57.38},{"b":1,"k":0.6862,"f":56.58},{"b":1,"k":0.6973,"f":56.58},{"b":1,"k":0.727,"f":57.73},{"b":1,"k":0.753,"f":58.54},{"b":1,"k":0.7678,"f":58.71},{"b":1,"k":0.7826,"f":58.77},{"b":1,"k":0.8049,"f":58.98},{"b":1,"k":0.8249,"f":58.91},{"b":1,"k":0.8457,"f":58.71},{"b":1,"k":0.8754,"f":57.73},{"b":1,"k":0.905,"f":56.9},{"b":1,"k":0.9162,"f":57.02},{"b":1,"k":0.9421,"f":58.62},{"b":1,"k":0.9644,"f":60.23},{"b":1,"k":0.9807,"f":60.89},{"b":1,"k":1,"f":60.73},
{"b":2,"k":0,"f":53.99},{"b":2,"k":0.0223,"f":54.35},{"b":2,"k":0.0408,"f":55.24},{"b":2,"k":0.0593,"f":55.83},{"b":2,"k":0.0727,"f":55.6},{"b":2,"k":0.0964,"f":53.96},{"b":2,"k":0.1076,"f":54.08},{"b":2,"k":0.1187,"f":54.71},{"b":2,"k":0.132,"f":54.74},{"b":2,"k":0.1447,"f":54.26},{"b":2,"k":0.1558,"f":53.28},{"b":2,"k":0.1855,"f":54.71},{"b":2,"k":0.2151,"f":56.04},{"b":2,"k":0.23,"f":55.6},{"b":2,"k":0.2522,"f":54.17},{"b":2,"k":0.2819,"f":53.19},{"b":2,"k":0.2982,"f":52.85},{"b":2,"k":0.319,"f":53.19},{"b":2,"k":0.3561,"f":54.71},{"b":2,"k":0.3858,"f":55.77},{"b":2,"k":0.4006,"f":55.6},{"b":2,"k":0.4154,"f":55.51},{"b":2,"k":0.4451,"f":55.86},{"b":2,"k":0.4711,"f":56.08},{"b":2,"k":0.4859,"f":55.86},{"b":2,"k":0.5045,"f":54.92},{"b":2,"k":0.5267,"f":55.24},{"b":2,"k":0.5415,"f":54.8},{"b":2,"k":0.5638,"f":53.85},{"b":2,"k":0.5749,"f":54.03},{"b":2,"k":0.5898,"f":54.71},{"b":2,"k":0.6024,"f":54.74},{"b":2,"k":0.6157,"f":54.26},{"b":2,"k":0.6254,"f":53.19},{"b":2,"k":0.6528,"f":54.71},{"b":2,"k":0.6862,"f":55.99},{"b":2,"k":0.6973,"f":55.77},{"b":2,"k":0.7344,"f":54.17},{"b":2,"k":0.7693,"f":52.89},{"b":2,"k":0.8249,"f":52.89},{"b":2,"k":0.8605,"f":54.17},{"b":2,"k":0.905,"f":55.69},{"b":2,"k":0.9347,"f":54.53},{"b":2,"k":0.9718,"f":53.42},{"b":2,"k":0.9866,"f":53.81},{"b":2,"k":1,"f":53.96},
{"b":3,"k":0,"f":53.07},{"b":3,"k":0.0297,"f":52.66},{"b":3,"k":0.0631,"f":51.29},{"b":3,"k":0.0727,"f":51.18},{"b":3,"k":0.0964,"f":53.19},{"b":3,"k":0.1076,"f":52.96},{"b":3,"k":0.1187,"f":51.95},{"b":3,"k":0.132,"f":51.55},{"b":3,"k":0.1558,"f":52.96},{"b":3,"k":0.178,"f":51.68},{"b":3,"k":0.2003,"f":48.83},{"b":3,"k":0.2166,"f":45.0},{"b":3,"k":0.2226,"f":44.02},
{"b":4,"k":0,"f":44.95},{"b":4,"k":0.0185,"f":45.0},{"b":4,"k":0.0408,"f":46.16},{"b":4,"k":0.0593,"f":48.56},{"b":4,"k":0.0727,"f":49.22},{"b":4,"k":0.0853,"f":48.92},{"b":4,"k":0.0964,"f":48.08},{"b":4,"k":0.1076,"f":48.74},{"b":4,"k":0.1187,"f":49.72},{"b":4,"k":0.132,"f":50.11},{"b":4,"k":0.1447,"f":49.54},{"b":4,"k":0.1558,"f":48.83},{"b":4,"k":0.1706,"f":48.47},{"b":4,"k":0.1855,"f":48.61},{"b":4,"k":0.2077,"f":49.54},{"b":4,"k":0.2522,"f":51.5},{"b":4,"k":0.2982,"f":52.85},{"b":4,"k":0.3264,"f":52.21},{"b":4,"k":0.3635,"f":50.08},{"b":4,"k":0.4006,"f":48.12},{"b":4,"k":0.4303,"f":46.34},{"b":4,"k":0.4488,"f":45.0},{"b":4,"k":0.4562,"f":44.38},
{"b":5,"k":0.3709,"f":44.38},{"b":5,"k":0.3783,"f":45.0},{"b":5,"k":0.4006,"f":47.4},{"b":5,"k":0.4303,"f":50.61},{"b":5,"k":0.4525,"f":52.39},{"b":5,"k":0.4711,"f":53.07},{"b":5,"k":0.4859,"f":53.28},{"b":5,"k":0.5082,"f":54.53},{"b":5,"k":0.5208,"f":54.0},{"b":5,"k":0.5415,"f":52.07},{"b":5,"k":0.5527,"f":52.25},{"b":5,"k":0.5653,"f":53.28},{"b":5,"k":0.5764,"f":53.01},{"b":5,"k":0.5898,"f":52.18},{"b":5,"k":0.6009,"f":51.95},{"b":5,"k":0.6157,"f":52.48},{"b":5,"k":0.6254,"f":53.05},{"b":5,"k":0.6454,"f":50.61},{"b":5,"k":0.6677,"f":47.23},{"b":5,"k":0.6825,"f":45.53},{"b":5,"k":0.6973,"f":45.3},{"b":5,"k":0.7159,"f":47.05},{"b":5,"k":0.7344,"f":48.83},{"b":5,"k":0.753,"f":50.43},{"b":5,"k":0.7693,"f":51.14},{"b":5,"k":0.7804,"f":50.88},{"b":5,"k":0.7938,"f":47.94},{"b":5,"k":0.8027,"f":45.0},{"b":5,"k":0.8056,"f":44.02},
{"b":6,"k":0.4837,"f":44.02},{"b":6,"k":0.4911,"f":45.0},{"b":6,"k":0.5119,"f":47.4},{"b":6,"k":0.5438,"f":49.76},{"b":6,"k":0.5527,"f":49.63},{"b":6,"k":0.5638,"f":48.38},{"b":6,"k":0.5749,"f":48.56},{"b":6,"k":0.5898,"f":49.76},{"b":6,"k":0.6024,"f":49.81},{"b":6,"k":0.6231,"f":49.01},{"b":6,"k":0.6343,"f":48.69},{"b":6,"k":0.6602,"f":48.69},{"b":6,"k":0.6973,"f":50.25},{"b":6,"k":0.7344,"f":51.86},{"b":6,"k":0.7693,"f":52.89},{"b":6,"k":0.8249,"f":52.89},{"b":6,"k":0.868,"f":51.14},{"b":6,"k":0.905,"f":48.65},{"b":6,"k":0.9162,"f":49.18},{"b":6,"k":0.9496,"f":51.5},{"b":6,"k":0.9792,"f":53.25},{"b":6,"k":1,"f":53.07},
{"b":7,"k":0,"f":44.92},{"b":7,"k":0.0297,"f":45.04},{"b":7,"k":0.0519,"f":45.05},{"b":7,"k":0.0631,"f":45.18},{"b":7,"k":0.0742,"f":45.63},{"b":7,"k":0.0853,"f":46.34},{"b":7,"k":0.0964,"f":47.55},{"b":7,"k":0.1076,"f":47.14},{"b":7,"k":0.1187,"f":46.16},{"b":7,"k":0.132,"f":45.0},{"b":7,"k":0.1372,"f":44.38},
{"b":8,"k":0.5341,"f":44.02},{"b":8,"k":0.5438,"f":45.0},{"b":8,"k":0.5564,"f":46.34},{"b":8,"k":0.5675,"f":47.32},{"b":8,"k":0.5786,"f":46.96},{"b":8,"k":0.5935,"f":45.0},{"b":8,"k":0.5972,"f":44.38},
{"b":9,"k":0.8976,"f":44.02},{"b":9,"k":0.905,"f":45.0},{"b":9,"k":0.9162,"f":46.87},{"b":9,"k":0.9273,"f":48.12},{"b":9,"k":0.9347,"f":48.03},{"b":9,"k":0.957,"f":46.34},{"b":9,"k":0.9755,"f":45.0},{"b":9,"k":0.9792,"f":44.38}
 ]
},
"vconcat": [
 {"hconcat": [
  {"width": 606, "height": 420, "resolve": {"axis": {"x": "independent", "y": "independent"}},
   "layer": [
    {"data": {"name": "p1g"}, "mark": {"type": "line", "interpolate": "monotone", "color": "#10c810", "opacity": 0.7, "strokeWidth": 1.5, "clip": true},
     "encoding": {"x": {"field": "k", "type": "quantitative", "scale": {"domain": [0, 1], "nice": false, "zero": false}, "axis": {"values": [0, 0.1945, 0.336, 0.5306, 0.793, 1], "labelExpr": "datum.value < 0.1 ? 'F₁' : datum.value < 0.25 ? 'Γ' : datum.value < 0.4 ? 'L' : datum.value < 0.6 ? 'T₁|T' : datum.value < 0.9 ? 'Γ' : 'F₂'", "labelFontSize": 13, "tickSize": 5, "labelPadding": 4, "title": null}},
      "y": {"field": "f", "type": "quantitative", "scale": {"domain": [74, 135.2], "nice": false, "zero": false}, "axis": {"values": [80, 90, 100, 110, 120, 130], "tickSize": 5, "labelPadding": 4, "title": "Frequency [meV]", "titlePadding": 8}},
      "detail": {"field": "b"}}},
    {"data": {"name": "p1k"}, "mark": {"type": "line", "interpolate": "monotone", "color": "#222222", "opacity": 0.8, "strokeWidth": 1.5, "clip": true},
     "encoding": {"x": {"field": "k", "type": "quantitative", "axis": null}, "y": {"field": "f", "type": "quantitative", "axis": null}, "detail": {"field": "b"}}},
    {"data": {"name": "s1"}, "mark": {"type": "rule", "color": "#555555", "strokeWidth": 0.8},
     "encoding": {"x": {"field": "k", "type": "quantitative", "axis": {"orient": "top", "ticks": false, "labels": false, "title": "mp-24240", "titleColor": "#0000ff", "titleFont": "DejaVu Serif", "titleFontSize": 17.5, "titleAlign": "right", "titleX": 195, "titleY": -13, "titleBaseline": "alphabetic"}}}},
    {"data": {"values": [{"f": 92.4}, {"f": 112.6}]}, "mark": {"type": "rule", "color": "#ee3333", "strokeWidth": 0.8, "strokeDash": [3, 2]},
     "encoding": {"x": {"datum": 0, "type": "quantitative", "axis": {"orient": "top", "ticks": false, "labels": false, "title": ", SG 166 (R3\u0304m), K₃B₁₂H₁₂I", "titleColor": "#000000", "titleFont": "DejaVu Serif", "titleFontSize": 18.5, "titleAlign": "left", "titleX": 195, "titleY": -13, "titleBaseline": "alphabetic"}}, "x2": {"datum": 1},
      "y": {"field": "f", "type": "quantitative", "axis": {"orient": "left", "values": [75, 85, 95, 105, 115, 125, 135], "labels": false, "tickSize": 2.5, "title": null}}}}
   ]},
  {"width": 606, "height": 420, "resolve": {"axis": {"x": "independent", "y": "independent"}},
   "layer": [
    {"data": {"name": "p2g"}, "mark": {"type": "line", "interpolate": "monotone", "color": "#10c810", "opacity": 0.7, "strokeWidth": 1.5, "clip": true},
     "encoding": {"x": {"field": "k", "type": "quantitative", "scale": {"domain": [0, 1], "nice": false, "zero": false}, "axis": {"values": [0, 0.1945, 0.336, 0.5306, 0.793, 1], "labelExpr": "datum.value < 0.1 ? 'F₁' : datum.value < 0.25 ? 'Γ' : datum.value < 0.4 ? 'L' : datum.value < 0.6 ? 'T₁|T' : datum.value < 0.9 ? 'Γ' : 'F₂'", "labelFontSize": 13, "tickSize": 5, "labelPadding": 4, "title": null}},
      "y": {"field": "f", "type": "quantitative", "scale": {"domain": [74, 111], "nice": false, "zero": false}, "axis": {"values": [75, 80, 85, 90, 95, 100, 105, 110], "tickSize": 5, "labelPadding": 4, "title": "Frequency [meV]", "titlePadding": 8}},
      "detail": {"field": "b"}}},
    {"data": {"name": "p2k"}, "mark": {"type": "line", "interpolate": "monotone", "color": "#222222", "opacity": 0.8, "strokeWidth": 1.5, "clip": true},
     "encoding": {"x": {"field": "k", "type": "quantitative", "axis": null}, "y": {"field": "f", "type": "quantitative", "axis": null}, "detail": {"field": "b"}}},
    {"data": {"name": "s1"}, "mark": {"type": "rule", "color": "#555555", "strokeWidth": 0.8},
     "encoding": {"x": {"field": "k", "type": "quantitative", "axis": {"orient": "top", "ticks": false, "labels": false, "title": "mp-24241", "titleColor": "#0000ff", "titleFont": "DejaVu Serif", "titleFontSize": 17.5, "titleAlign": "right", "titleX": 190, "titleY": -13, "titleBaseline": "alphabetic"}}}},
    {"data": {"values": [{"f": 92.4}]}, "mark": {"type": "rule", "color": "#ee3333", "strokeWidth": 0.8, "strokeDash": [3, 2]},
     "encoding": {"x": {"datum": 0, "type": "quantitative", "axis": {"orient": "top", "ticks": false, "labels": false, "title": ", SG 166 (R3\u0304m), Rb₃B₁₂H₁₂I", "titleColor": "#000000", "titleFont": "DejaVu Serif", "titleFontSize": 18.5, "titleAlign": "left", "titleX": 190, "titleY": -13, "titleBaseline": "alphabetic"}}, "x2": {"datum": 1},
      "y": {"field": "f", "type": "quantitative", "axis": {"orient": "left", "values": [77.5, 82.5, 87.5, 92.5, 97.5, 102.5, 107.5], "labels": false, "tickSize": 2.5, "title": null}}}}
   ]}
 ], "spacing": 18},
 {"hconcat": [
  {"width": 606, "height": 420, "resolve": {"axis": {"x": "independent", "y": "independent"}},
   "layer": [
    {"data": {"name": "p3g"}, "mark": {"type": "line", "interpolate": "monotone", "color": "#10c810", "opacity": 0.7, "strokeWidth": 1.5, "clip": true},
     "encoding": {"x": {"field": "k", "type": "quantitative", "scale": {"domain": [0, 1], "nice": false, "zero": false}, "axis": {"values": [0, 0.1945, 0.336, 0.5306, 0.793, 1], "labelExpr": "datum.value < 0.1 ? 'F₁' : datum.value < 0.25 ? 'Γ' : datum.value < 0.4 ? 'L' : datum.value < 0.6 ? 'T₁|T' : datum.value < 0.9 ? 'Γ' : 'F₂'", "labelFontSize": 13, "tickSize": 5, "labelPadding": 4, "title": null}},
      "y": {"field": "f", "type": "quantitative", "scale": {"domain": [74.5, 111.6], "nice": false, "zero": false}, "axis": {"values": [75, 80, 85, 90, 95, 100, 105, 110], "tickSize": 5, "labelPadding": 4, "title": "Frequency [meV]", "titlePadding": 8}},
      "detail": {"field": "b"}}},
    {"data": {"name": "p3k"}, "mark": {"type": "line", "interpolate": "monotone", "color": "#222222", "opacity": 0.8, "strokeWidth": 1.5, "clip": true},
     "encoding": {"x": {"field": "k", "type": "quantitative", "axis": null}, "y": {"field": "f", "type": "quantitative", "axis": null}, "detail": {"field": "b"}}},
    {"data": {"name": "s1"}, "mark": {"type": "rule", "color": "#555555", "strokeWidth": 0.8},
     "encoding": {"x": {"field": "k", "type": "quantitative", "axis": {"orient": "top", "ticks": false, "labels": false, "title": "mp-24796", "titleColor": "#0000ff", "titleFont": "DejaVu Serif", "titleFontSize": 17.5, "titleAlign": "right", "titleX": 181, "titleY": -13, "titleBaseline": "alphabetic"}}}},
    {"data": {"values": [{"f": 92.95}]}, "mark": {"type": "rule", "color": "#ee3333", "strokeWidth": 0.8, "strokeDash": [3, 2]},
     "encoding": {"x": {"datum": 0, "type": "quantitative", "axis": {"orient": "top", "ticks": false, "labels": false, "title": ", SG 166 (R3\u0304m), Rb₃B₁₂H₁₂Br", "titleColor": "#000000", "titleFont": "DejaVu Serif", "titleFontSize": 18.5, "titleAlign": "left", "titleX": 181, "titleY": -13, "titleBaseline": "alphabetic"}}, "x2": {"datum": 1},
      "y": {"field": "f", "type": "quantitative", "axis": {"orient": "left", "values": [77.5, 82.5, 87.5, 92.5, 97.5, 102.5, 107.5], "labels": false, "tickSize": 2.5, "title": null}}}}
   ]},
  {"width": 606, "height": 420, "resolve": {"axis": {"x": "independent", "y": "independent"}},
   "layer": [
    {"data": {"name": "p4g"}, "mark": {"type": "line", "interpolate": "monotone", "color": "#10c810", "opacity": 0.7, "strokeWidth": 1.5, "clip": true},
     "encoding": {"x": {"field": "k", "type": "quantitative", "scale": {"domain": [0, 1], "nice": false, "zero": false}, "axis": {"values": [0, 0.1945, 0.336, 0.5306, 0.793, 1], "labelExpr": "datum.value < 0.1 ? 'F₁' : datum.value < 0.25 ? 'Γ' : datum.value < 0.4 ? 'L' : datum.value < 0.6 ? 'T₁|T' : datum.value < 0.9 ? 'Γ' : 'F₂'", "labelFontSize": 13, "tickSize": 5, "labelPadding": 4, "title": null}},
      "y": {"field": "f", "type": "quantitative", "scale": {"domain": [90.7, 136.1], "nice": false, "zero": false}, "axis": {"values": [100, 110, 120, 130], "tickSize": 5, "labelPadding": 4, "title": "Frequency [meV]", "titlePadding": 8}},
      "detail": {"field": "b"}}},
    {"data": {"name": "s1"}, "mark": {"type": "rule", "color": "#555555", "strokeWidth": 0.8},
     "encoding": {"x": {"field": "k", "type": "quantitative", "axis": {"orient": "top", "ticks": false, "labels": false, "title": "mp-24798", "titleColor": "#0000ff", "titleFont": "DejaVu Serif", "titleFontSize": 17.5, "titleAlign": "right", "titleX": 184, "titleY": -13, "titleBaseline": "alphabetic"}}}},
    {"data": {"values": [{"f": 113.3}]}, "mark": {"type": "rule", "color": "#ee3333", "strokeWidth": 0.8, "strokeDash": [3, 2]},
     "encoding": {"x": {"datum": 0, "type": "quantitative", "axis": {"orient": "top", "ticks": false, "labels": false, "title": ", SG 166 (R3\u0304m), Rb₃B₁₂H₁₂Cl", "titleColor": "#000000", "titleFont": "DejaVu Serif", "titleFontSize": 18.5, "titleAlign": "left", "titleX": 184, "titleY": -13, "titleBaseline": "alphabetic"}}, "x2": {"datum": 1},
      "y": {"field": "f", "type": "quantitative", "axis": {"orient": "left", "values": [95, 105, 115, 125, 135], "labels": false, "tickSize": 2.5, "title": null}}}}
   ]}
 ], "spacing": 18},
 {"hconcat": [
  {"width": 606, "height": 420, "resolve": {"axis": {"x": "independent", "y": "independent"}},
   "layer": [
    {"data": {"name": "p5g"}, "mark": {"type": "line", "interpolate": "monotone", "color": "#10c810", "opacity": 0.7, "strokeWidth": 1.5, "clip": true},
     "encoding": {"x": {"field": "k", "type": "quantitative", "scale": {"domain": [0, 1], "nice": false, "zero": false}, "axis": {"values": [0, 0.1945, 0.336, 0.5306, 0.793, 1], "labelExpr": "datum.value < 0.1 ? 'F₁' : datum.value < 0.25 ? 'Γ' : datum.value < 0.4 ? 'L' : datum.value < 0.6 ? 'T₁|T' : datum.value < 0.9 ? 'Γ' : 'F₂'", "labelFontSize": 13, "tickSize": 5, "labelPadding": 4, "title": null}},
      "y": {"field": "f", "type": "quantitative", "scale": {"domain": [74.4, 111.5], "nice": false, "zero": false}, "axis": {"values": [75, 80, 85, 90, 95, 100, 105, 110], "tickSize": 5, "labelPadding": 4, "title": "Frequency [meV]", "titlePadding": 8}},
      "detail": {"field": "b"}}},
    {"data": {"name": "s1"}, "mark": {"type": "rule", "color": "#555555", "strokeWidth": 0.8},
     "encoding": {"x": {"field": "k", "type": "quantitative", "axis": {"orient": "top", "ticks": false, "labels": false, "title": "mp-24799", "titleColor": "#0000ff", "titleFont": "DejaVu Serif", "titleFontSize": 17.5, "titleAlign": "right", "titleX": 185, "titleY": -13, "titleBaseline": "alphabetic"}}}},
    {"data": {"values": [{"f": 92.9}]}, "mark": {"type": "rule", "color": "#ee3333", "strokeWidth": 0.8, "strokeDash": [3, 2]},
     "encoding": {"x": {"datum": 0, "type": "quantitative", "axis": {"orient": "top", "ticks": false, "labels": false, "title": ", SG 166 (R3\u0304m), Cs₃B₁₂H₁₂Cl", "titleColor": "#000000", "titleFont": "DejaVu Serif", "titleFontSize": 18.5, "titleAlign": "left", "titleX": 185, "titleY": -13, "titleBaseline": "alphabetic"}}, "x2": {"datum": 1},
      "y": {"field": "f", "type": "quantitative", "axis": {"orient": "left", "values": [77.5, 82.5, 87.5, 92.5, 97.5, 102.5, 107.5], "labels": false, "tickSize": 2.5, "title": null}}}}
   ]},
  {"width": 602, "height": 420, "resolve": {"axis": {"x": "independent", "y": "independent"}},
   "layer": [
    {"data": {"name": "p6g"}, "mark": {"type": "line", "interpolate": "linear", "color": "#3cb43c", "opacity": 0.85, "strokeWidth": 1.4, "clip": true},
     "encoding": {"x": {"field": "k", "type": "quantitative", "scale": {"domain": [0, 1], "nice": false, "zero": false}, "axis": {"values": [0, 0.2982, 0.4711, 0.7693, 0.8249, 1], "labelExpr": "datum.value < 0.1 ? 'F₁' : datum.value < 0.35 ? 'Γ' : datum.value < 0.6 ? 'L' : datum.value < 0.8 ? 'T₁|T' : datum.value < 0.9 ? 'Γ' : 'F₂'", "labelFontSize": 13, "tickSize": 5, "labelPadding": 4, "title": null}},
      "y": {"field": "f", "type": "quantitative", "scale": {"domain": [44.95, 67.3], "nice": false, "zero": false}, "axis": {"values": [45, 47.5, 50, 52.5, 55, 57.5, 60, 62.5, 65], "format": ".1f", "tickSize": 5, "labelPadding": 4, "title": "Frequency [meV]", "titlePadding": 8}},
      "detail": {"field": "b"}}},
    {"data": {"name": "p6k"}, "mark": {"type": "line", "interpolate": "linear", "color": "#222222", "opacity": 0.85, "strokeWidth": 1.4, "clip": true},
     "encoding": {"x": {"field": "k", "type": "quantitative", "axis": null}, "y": {"field": "f", "type": "quantitative", "axis": null}, "detail": {"field": "b"}}},
    {"data": {"name": "s6"}, "mark": {"type": "rule", "color": "#555555", "strokeWidth": 0.8},
     "encoding": {"x": {"field": "k", "type": "quantitative", "axis": {"orient": "top", "ticks": false, "labels": false, "title": "mp-29151", "titleColor": "#0000ff", "titleFont": "DejaVu Serif", "titleFontSize": 17.5, "titleAlign": "right", "titleX": 204, "titleY": -13, "titleBaseline": "alphabetic"}}}},
    {"data": {"values": [{"f": 56.08}]}, "mark": {"type": "rule", "color": "#ee3333", "strokeWidth": 0.8, "strokeDash": [3, 2]},
     "encoding": {"x": {"datum": 0, "type": "quantitative", "axis": {"orient": "top", "ticks": false, "labels": false, "title": ", SG 166 (R3\u0304m), Li₅NCl₂", "titleColor": "#000000", "titleFont": "DejaVu Serif", "titleFontSize": 18.5, "titleAlign": "left", "titleX": 204, "titleY": -13, "titleBaseline": "alphabetic"}}, "x2": {"datum": 1},
      "y": {"field": "f", "type": "quantitative", "axis": {"orient": "left", "values": [45.5, 46, 46.5, 47, 48, 48.5, 49, 49.5, 51, 51.5, 52, 53, 53.5, 54, 54.5, 56, 56.5, 57, 58, 58.5, 59, 59.5, 61, 61.5, 62, 63, 63.5, 64, 64.5, 66, 66.5, 67], "labels": false, "tickSize": 2.5, "title": null}}}}
   ]}
 ], "spacing": 18}
],
"spacing": 27
}
